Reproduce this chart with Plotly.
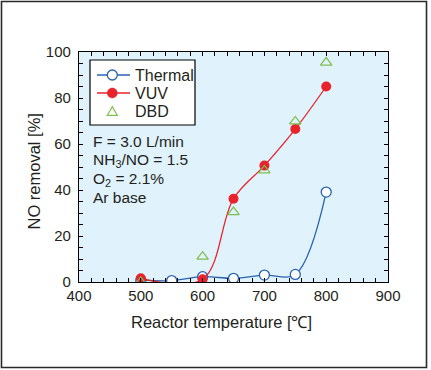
import plotly.graph_objects as go

# ---- data ----
temps = [500, 550, 600, 650, 700, 750, 800]
thermal = [0.8, 0.6, 2.3, 1.6, 3.0, 3.3, 39.1]
vuv_t = [500, 600, 650, 700, 750, 800]
vuv = [1.6, 1.2, 36.2, 50.6, 66.5, 85.0]
dbd_t = [500, 600, 650, 700, 750, 800]
dbd = [0.0, 11.0, 30.4, 48.5, 69.8, 95.4]
x_ticks = [400, 500, 600, 700, 800, 900]
y_ticks = [0, 20, 40, 60, 80, 100]
series_names = ["Thermal", "VUV", "DBD"]
cond_lines = ["F = 3.0 L/min", "NH<sub>3</sub>/NO = 1.5", "O<sub>2</sub> = 2.1%", "Ar base"]

W, H = 431, 370
L, R, T, B = 79, 43, 52, 88
pw, ph = W - L - R, H - T - B

def px(xp):
    return (xp - L) / pw

def py(yp):
    return (H - B - yp) / ph

FONT = "Liberation Sans, Arial, sans-serif"
TXT = "#231f20"
BLUE = "#2a63b0"
RED = "#e8232b"
GREEN = "#7cbf4c"

fig = go.Figure()
fig.add_trace(go.Scatter(
    x=temps, y=thermal, name=series_names[0], mode="lines+markers",
    line=dict(color=BLUE, width=1.3, shape="spline"),
    marker=dict(symbol="circle", size=10, color="white", line=dict(color=BLUE, width=1.3)),
))
fig.add_trace(go.Scatter(
    x=vuv_t, y=vuv, name=series_names[1], mode="lines+markers",
    line=dict(color=RED, width=1.3, shape="spline"),
    marker=dict(symbol="circle", size=10, color=RED, line=dict(width=0)),
))
fig.add_trace(go.Scatter(
    x=dbd_t, y=dbd, name=series_names[2], mode="markers",
    marker=dict(symbol="triangle-up-open", size=10, color=GREEN, line=dict(color=GREEN, width=1.2)),
))

axis_common = dict(
    showline=True, linecolor="black", linewidth=1.3, mirror="allticks",
    ticks="inside", ticklen=4, tickwidth=1.2, tickcolor="black",
    showgrid=False, zeroline=False,
    tickfont=dict(family=FONT, size=15, color=TXT),
)
fig.update_xaxes(range=[400, 900], tickvals=x_ticks,
                 minor=dict(dtick=20, tick0=400, ticks="inside", ticklen=4, tickwidth=1.2, tickcolor="black"),
                 **axis_common)
fig.update_yaxes(range=[0, 100], tickvals=y_ticks, ticklabelstandoff=4,
                 minor=dict(dtick=5, tick0=0, ticks="inside", ticklen=4, tickwidth=1.2, tickcolor="black"),
                 **axis_common)

annotations = []
ys = [141.7, 160.7, 179.5, 197.5]
for txt, yy in zip(cond_lines, ys):
    annotations.append(dict(
        text=txt, xref="paper", yref="paper", x=px(91), y=py(yy),
        xanchor="left", yanchor="middle", showarrow=False,
        font=dict(family=FONT, size=15.5, color=TXT),
    ))
annotations.append(dict(
    text="Reactor temperature [℃]", xref="paper", yref="paper", x=px(221), y=py(322),
    xanchor="center", yanchor="middle", showarrow=False,
    font=dict(family=FONT, size=16.5, color=TXT),
))
annotations.append(dict(
    text="NO removal [%]", xref="paper", yref="paper", x=px(33), y=py(171.5),
    xanchor="center", yanchor="middle", showarrow=False, textangle=-90,
    font=dict(family=FONT, size=16.5, color=TXT),
))

# ---- hand-built legend box (matches reference spacing) ----
shapes = [dict(type="rect", xref="paper", yref="paper",
               x0=px(1.5), x1=px(426.5), y0=py(367.5), y1=py(1.5),
               line=dict(color="#2a2a2a", width=1.6), fillcolor="rgba(0,0,0,0)", layer="below")]
shapes.append(dict(type="rect", xref="paper", yref="paper",
                   x0=px(90), x1=px(195), y0=py(125), y1=py(60),
                   line=dict(color="black", width=1.2), fillcolor="white", layer="above"))
leg_y = [75, 93, 111.5]
mx, r = 112.3, 5
# Thermal entry
shapes.append(dict(type="line", xref="paper", yref="paper", x0=px(97), x1=px(130),
                   y0=py(leg_y[0]), y1=py(leg_y[0]), line=dict(color=BLUE, width=1.3), layer="above"))
shapes.append(dict(type="circle", xref="paper", yref="paper", x0=px(mx - r), x1=px(mx + r),
                   y0=py(leg_y[0] + r), y1=py(leg_y[0] - r), fillcolor="white",
                   line=dict(color=BLUE, width=1.3), layer="above"))
# VUV entry
shapes.append(dict(type="line", xref="paper", yref="paper", x0=px(97), x1=px(130),
                   y0=py(leg_y[1]), y1=py(leg_y[1]), line=dict(color=RED, width=1.3), layer="above"))
shapes.append(dict(type="circle", xref="paper", yref="paper", x0=px(mx - r), x1=px(mx + r),
                   y0=py(leg_y[1] + r), y1=py(leg_y[1] - r), fillcolor=RED,
                   line=dict(color=RED, width=0.5), layer="above"))
# DBD entry
ty = leg_y[2]
tri = "M {:.5f},{:.5f} L {:.5f},{:.5f} L {:.5f},{:.5f} Z".format(
    px(mx), py(ty - 4.8), px(mx - 5), py(ty + 3.8), px(mx + 5), py(ty + 3.8))
shapes.append(dict(type="path", xref="paper", yref="paper", path=tri,
                   line=dict(color=GREEN, width=1.2), fillcolor="rgba(0,0,0,0)", layer="above"))
for name, yy in zip(series_names, leg_y):
    annotations.append(dict(
        text=name, xref="paper", yref="paper", x=px(133), y=py(yy),
        xanchor="left", yanchor="middle", showarrow=False,
        font=dict(family=FONT, size=16, color=TXT),
    ))

fig.update_layout(
    width=W, height=H,
    margin=dict(l=L, r=R, t=T, b=B, pad=0),
    paper_bgcolor="white", plot_bgcolor="#e0f2fc",
    showlegend=False,
    annotations=annotations,
    shapes=shapes,
)

fig.write_html("out.html", config={"displayModeBar": False},
               post_script="document.body.style.margin='0';document.body.style.overflow='hidden';")
